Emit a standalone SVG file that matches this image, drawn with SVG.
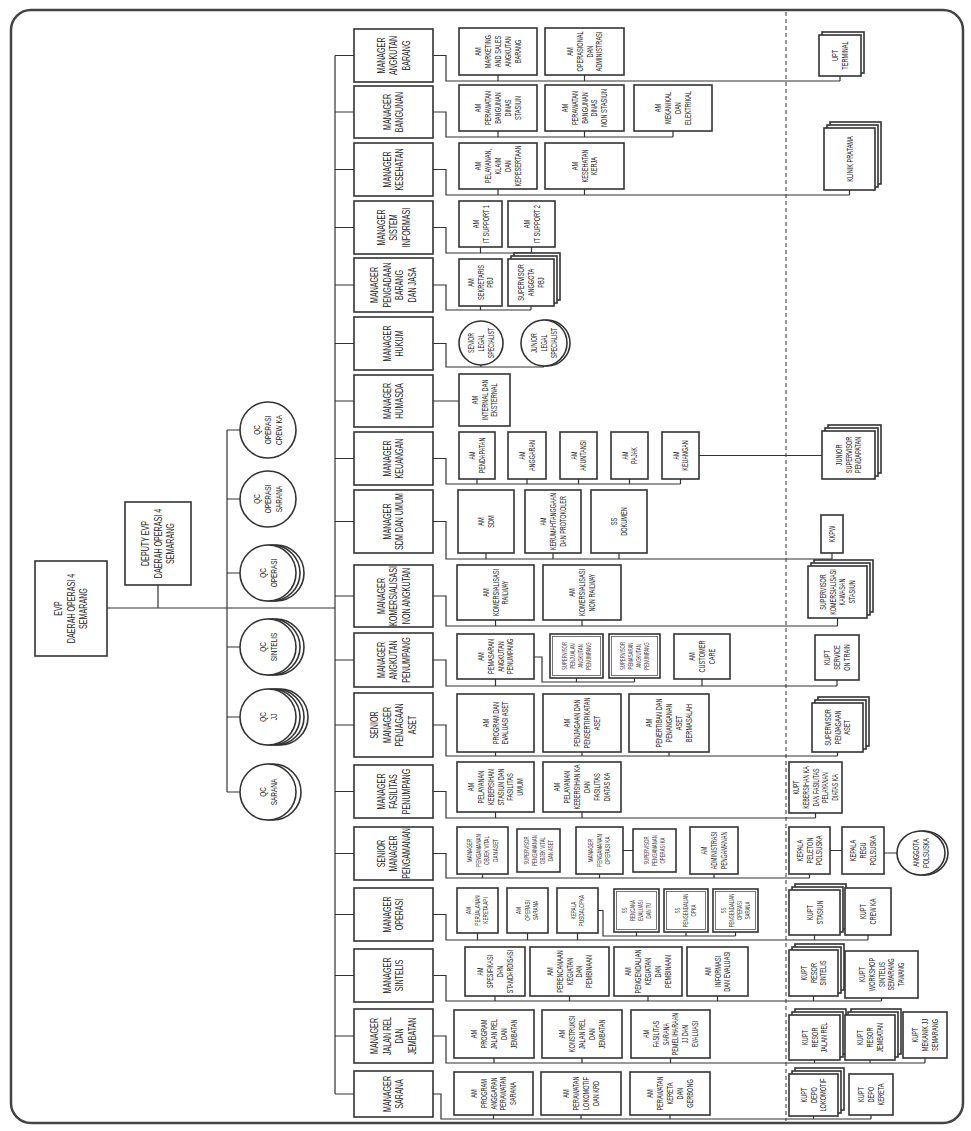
<svg xmlns="http://www.w3.org/2000/svg" width="971" height="1131" viewBox="0 0 971 1131">
<style>
text{font-family:"Liberation Sans",Arial,sans-serif;fill:#222;text-anchor:middle}
.m{font-size:10.5px}
.s{font-size:8.5px}
.ms{font-size:7px}
.x{font-size:6.5px;fill:#444}
.q{font-size:9.5px}
.b{fill:#fff;stroke:#333;stroke-width:1.6}
.bi{fill:none;stroke:#555;stroke-width:0.8}
.c{fill:none;stroke:#333;stroke-width:1.2}
</style>
<rect width="971" height="1131" fill="#fff"/>
<rect x="11" y="10" width="952" height="1113" rx="20" fill="none" stroke="#444" stroke-width="2.5"/>
<line x1="786" y1="12" x2="786" y2="1121" stroke="#555" stroke-width="1.2" stroke-dasharray="4 3"/>

<g id="connectors" class="c">
<path d="M107 608H335M158 585V608M335 55.5V1094"/>
<path d="M227 430V792M227 430H240M227 499H240M227 573H240M227 647H240M227 717H240M227 792H240"/>
<path d="M335 55.5H354M433 55.5H446V81H840M498 75V81M584.5 75V81M840 76V81"/>
<path d="M335 112H354M433 112H446V137H673M498 131V137M584.5 131V137M673 131V137"/>
<path d="M335 169.5H354M433 169.5H446V195H849.5M498 189V195M584.5 189V195M849.5 190V195"/>
<path d="M335 227.5H354M433 227.5H446V253H531.5M480.5 247V253M531.5 247V253"/>
<path d="M335 285H354M433 285H446V310H531M480.5 306V310M531 306V310"/>
<path d="M335 343.5H354M433 343.5H446V367H544M481 365V367M544 366V367"/>
<path d="M335 401H354M433 401H459"/>
<path d="M335 458.5H354M433 458.5H446V484H680.5M477 479V484M527 479V484M578.5 479V484M629.5 479V484M680.5 479V484M699 455.5H822"/>
<path d="M335 521.5H354M433 521.5H446V559H832M486 553V559M553 553V559M619 553V559M832 553V559"/>
<path d="M335 596H354M433 596H446V626H837.5M495.5 620V626M582 620V626M837.5 618V626"/>
<path d="M335 660H354M433 660H446V686H837M495.5 679V686M702 679V686M837 680V686M534 657H542V682H634.5M576.5 678V682M634.5 678V682"/>
<path d="M335 725H354M433 725H446V756H837.5M495.5 752V756M582 752V756M669 752V756M837.5 752V756"/>
<path d="M335 791.5H354M433 791.5H446V818H815.5M495.5 812V818M582 812V818M815.5 813V818"/>
<path d="M335 853.5H354M433 853.5H446V878H809.5M482.5 874V878M599.5 874V878M714 874V878M809.5 874V878M623 850.5H633M830 850.5H842M884 853H897"/>
<path d="M335 914.5H354M433 914.5H446V940H868M477.5 933V940M527.5 933V940M577.5 933V940M814.5 935V940M868 935V940M598 910.5H603V936H735.5M636.5 932V936M686 932V936M735.5 932V936"/>
<path d="M335 975.5H354M433 975.5H446V1001H881.5M495 996V1001M569.5 996V1001M648 996V1001M717.5 996V1001M813.5 996V1001M881.5 998V1001"/>
<path d="M335 1036H354M433 1036H446V1063H925M494 1058V1063M582 1058V1063M670.5 1058V1063M814.5 1060V1063M870 1060V1063M925 1058V1063"/>
<path d="M335 1094H354M433 1094H441V1119H871M493.5 1115V1119M581 1115V1119M670 1115V1119M813.5 1116V1119M871 1115V1119"/>
</g>

<g id="evp"><rect class="b" x="35" y="561" width="72" height="95"/>
<text class="m" transform="translate(71 608.5) rotate(-90) scale(.68 1)"><tspan x="0" y="-8.8">EVP</tspan><tspan x="0" dy="12.5">DAERAH OPERASI 4</tspan><tspan x="0" dy="12.5">SEMARANG</tspan></text></g>
<g id="deputy"><rect class="b" x="125" y="502" width="66" height="83"/>
<text class="m" transform="translate(158 543.5) rotate(-90) scale(.68 1)"><tspan x="0" y="-8.8">DEPUTY EVP</tspan><tspan x="0" dy="12.5">DAERAH OPERASI 4</tspan><tspan x="0" dy="12.5">SEMARANG</tspan></text></g>

<g id="qc-crew"><circle class="b" cx="268" cy="430" r="28"/>
<text class="q" transform="translate(268 430) rotate(-90) scale(.68 1)"><tspan x="0" y="-7.7">QC</tspan><tspan x="0" dy="11">OPERASI</tspan><tspan x="0" dy="11">CREW KA</tspan></text></g>
<g id="qc-opsarana"><circle class="b" cx="268" cy="499" r="28"/>
<text class="q" transform="translate(268 499) rotate(-90) scale(.68 1)"><tspan x="0" y="-7.7">QC</tspan><tspan x="0" dy="11">OPERASI</tspan><tspan x="0" dy="11">SARANA</tspan></text></g>
<g id="qc-operasi"><circle class="b" cx="276" cy="573" r="28"/><circle class="b" cx="272" cy="573" r="28"/><circle class="b" cx="268" cy="573" r="28"/>
<text class="q" transform="translate(268 573) rotate(-90) scale(.68 1)"><tspan x="0" y="-2.2">QC</tspan><tspan x="0" dy="11">OPERASI</tspan></text></g>
<g id="qc-sintelis"><circle class="b" cx="276" cy="647" r="28"/><circle class="b" cx="272" cy="647" r="28"/><circle class="b" cx="268" cy="647" r="28"/>
<text class="q" transform="translate(268 647) rotate(-90) scale(.68 1)"><tspan x="0" y="-2.2">QC</tspan><tspan x="0" dy="11">SINTELIS</tspan></text></g>
<g id="qc-jj"><circle class="b" cx="280" cy="717" r="28"/><circle class="b" cx="276" cy="717" r="28"/><circle class="b" cx="272" cy="717" r="28"/><circle class="b" cx="268" cy="717" r="28"/>
<text class="q" transform="translate(268 717) rotate(-90) scale(.68 1)"><tspan x="0" y="-2.2">QC</tspan><tspan x="0" dy="11">JJ</tspan></text></g>
<g id="qc-sarana"><circle class="b" cx="273" cy="792" r="28"/><circle class="b" cx="268" cy="792" r="28"/>
<text class="q" transform="translate(268 792) rotate(-90) scale(.68 1)"><tspan x="0" y="-2.2">QC</tspan><tspan x="0" dy="11">SARANA</tspan></text></g>

<g id="mgr-angkutan-barang"><rect class="b" x="354" y="29" width="79" height="53"/>
<text class="m" transform="translate(393.5 55.5) rotate(-90) scale(.68 1)"><tspan x="0" y="-8.8">MANAGER</tspan><tspan x="0" dy="12.5">ANGKUTAN</tspan><tspan x="0" dy="12.5">BARANG</tspan></text></g>
<g id="am-marketing"><rect class="b" x="459" y="28" width="78" height="47"/>
<text class="s" transform="translate(498 51.5) rotate(-90) scale(.66 1)"><tspan x="0" y="-17">AM</tspan><tspan x="0" dy="10">MARKETING</tspan><tspan x="0" dy="10">AND SALES</tspan><tspan x="0" dy="10">ANGKUTAN</tspan><tspan x="0" dy="10">BARANG</tspan></text></g>
<g id="am-operasional"><rect class="b" x="545" y="28" width="79" height="47"/>
<text class="s" transform="translate(584.5 51.5) rotate(-90) scale(.66 1)"><tspan x="0" y="-12">AM</tspan><tspan x="0" dy="10">OPERASIONAL</tspan><tspan x="0" dy="10">DAN</tspan><tspan x="0" dy="10">ADMINISTRASI</tspan></text></g>
<g id="upt-terminal"><rect class="b" x="822" y="32" width="42" height="41"/><rect class="b" x="819" y="35" width="42" height="41"/>
<text class="s" transform="translate(840 55.5) rotate(-90) scale(.66 1)"><tspan x="0" y="-2">UPT</tspan><tspan x="0" dy="10">TERMINAL</tspan></text></g>

<g id="mgr-bangunan"><rect class="b" x="354" y="86" width="79" height="52"/>
<text class="m" transform="translate(393.5 112) rotate(-90) scale(.68 1)"><tspan x="0" y="-2.55">MANAGER</tspan><tspan x="0" dy="12.5">BANGUNAN</tspan></text></g>
<g id="am-bangunan-stasiun"><rect class="b" x="459" y="85" width="78" height="46"/>
<text class="s" transform="translate(498 108) rotate(-90) scale(.66 1)"><tspan x="0" y="-17">AM</tspan><tspan x="0" dy="10">PERAWATAN</tspan><tspan x="0" dy="10">BANGUNAN</tspan><tspan x="0" dy="10">DINAS</tspan><tspan x="0" dy="10">STASIUN</tspan></text></g>
<g id="am-bangunan-non"><rect class="b" x="545" y="85" width="79" height="46"/>
<text class="s" transform="translate(584.5 108) rotate(-90) scale(.66 1)"><tspan x="0" y="-17">AM</tspan><tspan x="0" dy="10">PERAWATAN</tspan><tspan x="0" dy="10">BANGUNAN</tspan><tspan x="0" dy="10">DINAS</tspan><tspan x="0" dy="10">NON STASIUN</tspan></text></g>
<g id="am-mekanikal"><rect class="b" x="634" y="85" width="78" height="46"/>
<text class="s" transform="translate(673 108) rotate(-90) scale(.66 1)"><tspan x="0" y="-12">AM</tspan><tspan x="0" dy="10">MEKANIKAL</tspan><tspan x="0" dy="10">DAN</tspan><tspan x="0" dy="10">ELEKTRIKAL</tspan></text></g>

<g id="mgr-kesehatan"><rect class="b" x="354" y="143" width="79" height="53"/>
<text class="m" transform="translate(393.5 169.5) rotate(-90) scale(.68 1)"><tspan x="0" y="-2.55">MANAGER</tspan><tspan x="0" dy="12.5">KESEHATAN</tspan></text></g>
<g id="am-pelayanan-klaim"><rect class="b" x="459" y="143" width="78" height="46"/>
<text class="s" transform="translate(498 166) rotate(-90) scale(.66 1)"><tspan x="0" y="-17">AM</tspan><tspan x="0" dy="10">PELAYANAN,</tspan><tspan x="0" dy="10">KLAIM</tspan><tspan x="0" dy="10">DAN</tspan><tspan x="0" dy="10">KEPESERTAAN</tspan></text></g>
<g id="am-kesehatan-kerja"><rect class="b" x="545" y="143" width="79" height="46"/>
<text class="s" transform="translate(584.5 166) rotate(-90) scale(.66 1)"><tspan x="0" y="-7">AM</tspan><tspan x="0" dy="10">KESEHATAN</tspan><tspan x="0" dy="10">KERJA</tspan></text></g>
<g id="klinik-pratama"><rect class="b" x="830" y="122" width="51" height="62"/><rect class="b" x="827" y="125" width="51" height="62"/><rect class="b" x="824" y="128" width="51" height="62"/>
<text class="s" transform="translate(849.5 159) rotate(-90) scale(.66 1)"><tspan x="0" y="3">KLINIK PRATAMA</tspan></text></g>

<g id="mgr-sistem-informasi"><rect class="b" x="354" y="201" width="79" height="53"/>
<text class="m" transform="translate(393.5 227.5) rotate(-90) scale(.68 1)"><tspan x="0" y="-8.8">MANAGER</tspan><tspan x="0" dy="12.5">SISTEM</tspan><tspan x="0" dy="12.5">INFORMASI</tspan></text></g>
<g id="am-it1"><rect class="b" x="459" y="201" width="43" height="46"/>
<text class="s" transform="translate(480.5 224) rotate(-90) scale(.66 1)"><tspan x="0" y="-2">AM</tspan><tspan x="0" dy="10">IT SUPPORT 1</tspan></text></g>
<g id="am-it2"><rect class="b" x="508" y="201" width="47" height="46"/>
<text class="s" transform="translate(531.5 224) rotate(-90) scale(.66 1)"><tspan x="0" y="-2">AM</tspan><tspan x="0" dy="10">IT SUPPORT 2</tspan></text></g>

<g id="mgr-pengadaan"><rect class="b" x="354" y="258" width="79" height="54"/>
<text class="m" transform="translate(393.5 285) rotate(-90) scale(.68 1)"><tspan x="0" y="-15.05">MANAGER</tspan><tspan x="0" dy="12.5">PENGADAAN</tspan><tspan x="0" dy="12.5">BARANG</tspan><tspan x="0" dy="12.5">DAN JASA</tspan></text></g>
<g id="am-sekretaris-pbj"><rect class="b" x="459" y="259" width="43" height="47"/>
<text class="s" transform="translate(480.5 282.5) rotate(-90) scale(.66 1)"><tspan x="0" y="-7">AM</tspan><tspan x="0" dy="10">SEKRETARIS</tspan><tspan x="0" dy="10">PBJ</tspan></text></g>
<g id="supervisor-anggota-pbj"><rect class="b" x="514" y="253" width="46" height="47"/><rect class="b" x="511" y="256" width="46" height="47"/><rect class="b" x="508" y="259" width="46" height="47"/>
<text class="s" transform="translate(531 282.5) rotate(-90) scale(.66 1)"><tspan x="0" y="-7">SUPERVISOR</tspan><tspan x="0" dy="10">ANGGOTA</tspan><tspan x="0" dy="10">PBJ</tspan></text></g>

<g id="mgr-hukum"><rect class="b" x="354" y="317" width="79" height="53"/>
<text class="m" transform="translate(393.5 343.5) rotate(-90) scale(.68 1)"><tspan x="0" y="-2.55">MANAGER</tspan><tspan x="0" dy="12.5">HUKUM</tspan></text></g>
<g id="senior-legal"><circle class="b" cx="481" cy="343" r="22"/>
<text class="s" transform="translate(481 343) rotate(-90) scale(.62 1)"><tspan x="0" y="-7">SENIOR</tspan><tspan x="0" dy="10">LEGAL</tspan><tspan x="0" dy="10">SPECIALIST</tspan></text></g>
<g id="junior-legal"><circle class="b" cx="547" cy="343" r="23"/><circle class="b" cx="544" cy="343" r="23"/>
<text class="s" transform="translate(544 343) rotate(-90) scale(.62 1)"><tspan x="0" y="-7">JUNIOR</tspan><tspan x="0" dy="10">LEGAL</tspan><tspan x="0" dy="10">SPECIALIST</tspan></text></g>

<g id="mgr-humasda"><rect class="b" x="354" y="375" width="79" height="52"/>
<text class="m" transform="translate(393.5 401) rotate(-90) scale(.68 1)"><tspan x="0" y="-2.55">MANAGER</tspan><tspan x="0" dy="12.5">HUMASDA</tspan></text></g>
<g id="am-internal"><rect class="b" x="459" y="374" width="51" height="52"/>
<text class="s" transform="translate(484.5 400) rotate(-90) scale(.66 1)"><tspan x="0" y="-7">AM</tspan><tspan x="0" dy="10">INTERNAL DAN</tspan><tspan x="0" dy="10">EKSTERNAL</tspan></text></g>

<g id="mgr-keuangan"><rect class="b" x="354" y="432" width="79" height="53"/>
<text class="m" transform="translate(393.5 458.5) rotate(-90) scale(.68 1)"><tspan x="0" y="-2.55">MANAGER</tspan><tspan x="0" dy="12.5">KEUANGAN</tspan></text></g>
<g id="am-pendapatan"><rect class="b" x="459" y="432" width="36" height="47"/>
<text class="s" transform="translate(477 455.5) rotate(-90) scale(.64 1)"><tspan x="0" y="-2">AM</tspan><tspan x="0" dy="10">PENDAPATAN</tspan></text></g>
<g id="am-anggaran"><rect class="b" x="508" y="432" width="38" height="47"/>
<text class="s" transform="translate(527 455.5) rotate(-90) scale(.64 1)"><tspan x="0" y="-2">AM</tspan><tspan x="0" dy="10">ANGGARAN</tspan></text></g>
<g id="am-akuntansi"><rect class="b" x="560" y="432" width="37" height="47"/>
<text class="s" transform="translate(578.5 455.5) rotate(-90) scale(.64 1)"><tspan x="0" y="-2">AM</tspan><tspan x="0" dy="10">AKUNTANSI</tspan></text></g>
<g id="am-pajak"><rect class="b" x="611" y="432" width="37" height="47"/>
<text class="s" transform="translate(629.5 455.5) rotate(-90) scale(.64 1)"><tspan x="0" y="-2">AM</tspan><tspan x="0" dy="10">PAJAK</tspan></text></g>
<g id="am-keuangan"><rect class="b" x="662" y="432" width="37" height="47"/>
<text class="s" transform="translate(680.5 455.5) rotate(-90) scale(.64 1)"><tspan x="0" y="-2">AM</tspan><tspan x="0" dy="10">KEUANGAN</tspan></text></g>
<g id="junior-supervisor-pendapatan"><rect class="b" x="828" y="425" width="53" height="48"/><rect class="b" x="825" y="428" width="53" height="48"/><rect class="b" x="822" y="431" width="53" height="48"/>
<text class="s" transform="translate(848.5 455) rotate(-90) scale(.66 1)"><tspan x="0" y="-7">JUNIOR</tspan><tspan x="0" dy="10">SUPERVISOR</tspan><tspan x="0" dy="10">PENDAPATAN</tspan></text></g>

<g id="mgr-sdm"><rect class="b" x="354" y="490" width="79" height="63"/>
<text class="m" transform="translate(393.5 521.5) rotate(-90) scale(.68 1)"><tspan x="0" y="-2.55">MANAGER</tspan><tspan x="0" dy="12.5">SDM DAN UMUM</tspan></text></g>
<g id="am-sdm"><rect class="b" x="458" y="490" width="56" height="63"/>
<text class="s" transform="translate(486 521.5) rotate(-90) scale(.66 1)"><tspan x="0" y="-2">AM</tspan><tspan x="0" dy="10">SDM</tspan></text></g>
<g id="am-kerumahtanggaan"><rect class="b" x="525" y="490" width="56" height="63"/>
<text class="s" transform="translate(553 521.5) rotate(-90) scale(.64 1)"><tspan x="0" y="-7">AM</tspan><tspan x="0" dy="10">KERUMAHTANGGAAN</tspan><tspan x="0" dy="10">DAN PROTOKOLER</tspan></text></g>
<g id="ss-dokumen"><rect class="b" x="591" y="490" width="56" height="63"/>
<text class="s" transform="translate(619 521.5) rotate(-90) scale(.66 1)"><tspan x="0" y="-2">SS</tspan><tspan x="0" dy="10">DOKUMEN</tspan></text></g>
<g id="kkpw"><rect class="b" x="821" y="515" width="22" height="38"/>
<text class="s" transform="translate(832 534) rotate(-90) scale(.66 1)"><tspan x="0" y="3">KKPW</tspan></text></g>

<g id="mgr-komersialisasi"><rect class="b" x="354" y="565" width="79" height="62"/>
<text class="m" transform="translate(393.5 596) rotate(-90) scale(.68 1)"><tspan x="0" y="-8.8">MANAGER</tspan><tspan x="0" dy="12.5">KOMERSIALISASI</tspan><tspan x="0" dy="12.5">NON ANGKUTAN</tspan></text></g>
<g id="am-kom-railway"><rect class="b" x="457" y="565" width="77" height="55"/>
<text class="s" transform="translate(495.5 592.5) rotate(-90) scale(.66 1)"><tspan x="0" y="-7">AM</tspan><tspan x="0" dy="10">KOMERSIALISASI</tspan><tspan x="0" dy="10">RAILWAY</tspan></text></g>
<g id="am-kom-nonrailway"><rect class="b" x="543" y="565" width="78" height="55"/>
<text class="s" transform="translate(582 592.5) rotate(-90) scale(.66 1)"><tspan x="0" y="-7">AM</tspan><tspan x="0" dy="10">KOMERSIALISASI</tspan><tspan x="0" dy="10">NON RAILWAY</tspan></text></g>
<g id="supervisor-kawasan"><rect class="b" x="814" y="560" width="59" height="52"/><rect class="b" x="811" y="563" width="59" height="52"/><rect class="b" x="808" y="566" width="59" height="52"/>
<text class="s" transform="translate(837.5 592) rotate(-90) scale(.64 1)"><tspan x="0" y="-12">SUPERVISOR</tspan><tspan x="0" dy="10">KOMERSIALISASI</tspan><tspan x="0" dy="10">KAWASAN</tspan><tspan x="0" dy="10">STASIUN</tspan></text></g>

<g id="mgr-angkutan-penumpang"><rect class="b" x="354" y="633" width="79" height="54"/>
<text class="m" transform="translate(393.5 660) rotate(-90) scale(.68 1)"><tspan x="0" y="-8.8">MANAGER</tspan><tspan x="0" dy="12.5">ANGKUTAN</tspan><tspan x="0" dy="12.5">PENUMPANG</tspan></text></g>
<g id="am-pemasaran"><rect class="b" x="457" y="634" width="77" height="45"/>
<text class="s" transform="translate(495.5 656.5) rotate(-90) scale(.66 1)"><tspan x="0" y="-12">AM</tspan><tspan x="0" dy="10">PEMASARAN</tspan><tspan x="0" dy="10">ANGKUTAN</tspan><tspan x="0" dy="10">PENUMPANG</tspan></text></g>
<g id="sup-penjualan"><rect class="b" x="550" y="634" width="53" height="44"/><rect class="bi" x="552.5" y="636.5" width="48" height="39"/>
<text class="x" transform="translate(576.5 656) rotate(-90) scale(.66 1)"><tspan x="0" y="-9.7">SUPERVISOR</tspan><tspan x="0" dy="8">PENJUALAN</tspan><tspan x="0" dy="8">ANGKUTAN</tspan><tspan x="0" dy="8">PENUMPANG</tspan></text></g>
<g id="sup-pemasaran"><rect class="b" x="609" y="634" width="51" height="44"/><rect class="bi" x="611.5" y="636.5" width="46" height="39"/>
<text class="x" transform="translate(634.5 656) rotate(-90) scale(.66 1)"><tspan x="0" y="-9.7">SUPERVISOR</tspan><tspan x="0" dy="8">PEMASARAN</tspan><tspan x="0" dy="8">ANGKUTAN</tspan><tspan x="0" dy="8">PENUMPANG</tspan></text></g>
<g id="am-customer-care"><rect class="b" x="674" y="634" width="56" height="45"/>
<text class="s" transform="translate(702 656.5) rotate(-90) scale(.66 1)"><tspan x="0" y="-7">AM</tspan><tspan x="0" dy="10">CUSTOMER</tspan><tspan x="0" dy="10">CARE</tspan></text></g>
<g id="kupt-service"><rect class="b" x="815" y="635" width="44" height="45"/>
<text class="s" transform="translate(837 657.5) rotate(-90) scale(.66 1)"><tspan x="0" y="-7">KUPT</tspan><tspan x="0" dy="10">SERVICE</tspan><tspan x="0" dy="10">ON TRAIN</tspan></text></g>

<g id="sm-penjagaan-aset"><rect class="b" x="354" y="693" width="79" height="64"/>
<text class="m" transform="translate(393.5 725) rotate(-90) scale(.68 1)"><tspan x="0" y="-15.05">SENIOR</tspan><tspan x="0" dy="12.5">MANAGER</tspan><tspan x="0" dy="12.5">PENJAGAAN</tspan><tspan x="0" dy="12.5">ASET</tspan></text></g>
<g id="am-program-aset"><rect class="b" x="457" y="694" width="77" height="58"/>
<text class="s" transform="translate(495.5 723) rotate(-90) scale(.66 1)"><tspan x="0" y="-7">AM</tspan><tspan x="0" dy="10">PROGRAM DAN</tspan><tspan x="0" dy="10">EVALUASI ASET</tspan></text></g>
<g id="am-penjagaan"><rect class="b" x="543" y="694" width="78" height="58"/>
<text class="s" transform="translate(582 723) rotate(-90) scale(.66 1)"><tspan x="0" y="-12">AM</tspan><tspan x="0" dy="10">PENJAGAAN DAN</tspan><tspan x="0" dy="10">PENSERTIPIKATAN</tspan><tspan x="0" dy="10">ASET</tspan></text></g>
<g id="am-penertiban"><rect class="b" x="629" y="694" width="80" height="58"/>
<text class="s" transform="translate(669 723) rotate(-90) scale(.66 1)"><tspan x="0" y="-17">AM</tspan><tspan x="0" dy="10">PENERTIBAN DAN</tspan><tspan x="0" dy="10">PENANGANAN</tspan><tspan x="0" dy="10">ASET</tspan><tspan x="0" dy="10">BERMASALAH</tspan></text></g>
<g id="supervisor-penjagaan"><rect class="b" x="818" y="697" width="51" height="49"/><rect class="b" x="815" y="700" width="51" height="49"/><rect class="b" x="812" y="703" width="51" height="49"/>
<text class="s" transform="translate(837.5 727.5) rotate(-90) scale(.66 1)"><tspan x="0" y="-7">SUPERVISOR</tspan><tspan x="0" dy="10">PENJAGAAN</tspan><tspan x="0" dy="10">ASET</tspan></text></g>

<g id="mgr-fasilitas"><rect class="b" x="354" y="765" width="79" height="53"/>
<text class="m" transform="translate(393.5 791.5) rotate(-90) scale(.68 1)"><tspan x="0" y="-8.8">MANAGER</tspan><tspan x="0" dy="12.5">FASILITAS</tspan><tspan x="0" dy="12.5">PENUMPANG</tspan></text></g>
<g id="am-kebersihan-stasiun"><rect class="b" x="457" y="762" width="77" height="50"/>
<text class="s" transform="translate(495.5 787) rotate(-90) scale(.66 1)"><tspan x="0" y="-22">AM</tspan><tspan x="0" dy="10">PELAYANAN</tspan><tspan x="0" dy="10">KEBERSIHAN</tspan><tspan x="0" dy="10">STASIUN DAN</tspan><tspan x="0" dy="10">FASILITAS</tspan><tspan x="0" dy="10">UMUM</tspan></text></g>
<g id="am-kebersihan-ka"><rect class="b" x="543" y="762" width="78" height="50"/>
<text class="s" transform="translate(582 787) rotate(-90) scale(.66 1)"><tspan x="0" y="-22">AM</tspan><tspan x="0" dy="10">PELAYANAN</tspan><tspan x="0" dy="10">KEBERSIHAN KA</tspan><tspan x="0" dy="10">DAN</tspan><tspan x="0" dy="10">FASILITAS</tspan><tspan x="0" dy="10">DIATAS KA</tspan></text></g>
<g id="kupt-kebersihan"><rect class="b" x="789" y="762" width="53" height="51"/>
<text class="s" transform="translate(815.5 787.5) rotate(-90) scale(.62 1)"><tspan x="0" y="-17">KUPT</tspan><tspan x="0" dy="10">KEBERSIHAN KA</tspan><tspan x="0" dy="10">DAN FASILITAS</tspan><tspan x="0" dy="10">PELAYANAN</tspan><tspan x="0" dy="10">DIATAS KA</tspan></text></g>

<g id="sm-pengamanan"><rect class="b" x="354" y="827" width="79" height="53"/>
<text class="m" transform="translate(393.5 853.5) rotate(-90) scale(.68 1)"><tspan x="0" y="-8.8">SENIOR</tspan><tspan x="0" dy="12.5">MANAGER</tspan><tspan x="0" dy="12.5">PENGAMANAN</tspan></text></g>
<g id="mgr-objek-vital"><rect class="b" x="457" y="827" width="51" height="47"/>
<text class="ms" transform="translate(482.5 850.5) rotate(-90) scale(.66 1)"><tspan x="0" y="-10.3">MANAGER</tspan><tspan x="0" dy="8.5">PENGAMANAN</tspan><tspan x="0" dy="8.5">OBJEK VITAL</tspan><tspan x="0" dy="8.5">DAN ASET</tspan></text></g>
<g id="sup-objek-vital"><rect class="b" x="517" y="829" width="43" height="43"/>
<text class="x" transform="translate(538.5 850.5) rotate(-90) scale(.66 1)"><tspan x="0" y="-9.7">SUPERVISOR</tspan><tspan x="0" dy="8">PENGAMANAN</tspan><tspan x="0" dy="8">OBJEK VITAL</tspan><tspan x="0" dy="8">DAN ASET</tspan></text></g>
<g id="mgr-operasi-ka"><rect class="b" x="576" y="827" width="47" height="47"/>
<text class="ms" transform="translate(599.5 850.5) rotate(-90) scale(.66 1)"><tspan x="0" y="-6.05">MANAGER</tspan><tspan x="0" dy="8.5">PENGAMANAN</tspan><tspan x="0" dy="8.5">OPERASI KA</tspan></text></g>
<g id="sup-operasi-ka"><rect class="b" x="633" y="829" width="43" height="43"/>
<text class="x" transform="translate(654.5 850.5) rotate(-90) scale(.66 1)"><tspan x="0" y="-5.7">SUPERVISOR</tspan><tspan x="0" dy="8">PENGAMANAN</tspan><tspan x="0" dy="8">OPERASI KA</tspan></text></g>
<g id="am-administrasi-pengamanan"><rect class="b" x="690" y="827" width="48" height="47"/>
<text class="s" transform="translate(714 850.5) rotate(-90) scale(.62 1)"><tspan x="0" y="-7">AM</tspan><tspan x="0" dy="10">ADMINISTRASI</tspan><tspan x="0" dy="10">PENGAMANAN</tspan></text></g>
<g id="kepala-peleton"><rect class="b" x="789" y="827" width="41" height="47"/>
<text class="s" transform="translate(809.5 850.5) rotate(-90) scale(.66 1)"><tspan x="0" y="-7">KEPALA</tspan><tspan x="0" dy="10">PELETON</tspan><tspan x="0" dy="10">POLSUSKA</tspan></text></g>
<g id="kepala-regu"><rect class="b" x="842" y="827" width="42" height="47"/>
<text class="s" transform="translate(863 850.5) rotate(-90) scale(.66 1)"><tspan x="0" y="-7">KEPALA</tspan><tspan x="0" dy="10">REGU</tspan><tspan x="0" dy="10">POLSUSKA</tspan></text></g>
<g id="anggota-polsuska"><ellipse class="b" cx="924" cy="853" rx="24" ry="22"/><ellipse class="b" cx="921" cy="853" rx="24" ry="22"/>
<text class="s" transform="translate(921 853) rotate(-90) scale(.66 1)"><tspan x="0" y="-2">ANGGOTA</tspan><tspan x="0" dy="10">POLSUSKA</tspan></text></g>

<g id="mgr-operasi"><rect class="b" x="354" y="888" width="79" height="53"/>
<text class="m" transform="translate(393.5 914.5) rotate(-90) scale(.68 1)"><tspan x="0" y="-2.55">MANAGER</tspan><tspan x="0" dy="12.5">OPERASI</tspan></text></g>
<g id="am-perjalanan"><rect class="b" x="457" y="888" width="41" height="45"/>
<text class="ms" transform="translate(477.5 910.5) rotate(-90) scale(.66 1)"><tspan x="0" y="-6.05">AM</tspan><tspan x="0" dy="8.5">PERJALANAN</tspan><tspan x="0" dy="8.5">KERETA API</tspan></text></g>
<g id="am-operasi-sarana"><rect class="b" x="507" y="888" width="41" height="45"/>
<text class="ms" transform="translate(527.5 910.5) rotate(-90) scale(.66 1)"><tspan x="0" y="-6.05">AM</tspan><tspan x="0" dy="8.5">OPERASI</tspan><tspan x="0" dy="8.5">SARANA</tspan></text></g>
<g id="kepala-pusdalopka"><rect class="b" x="557" y="888" width="41" height="45"/>
<text class="ms" transform="translate(577.5 910.5) rotate(-90) scale(.66 1)"><tspan x="0" y="-1.8">KEPALA</tspan><tspan x="0" dy="8.5">PUSDALOPKA</tspan></text></g>
<g id="ss-rencana"><rect class="b" x="614" y="889" width="45" height="43"/><rect class="bi" x="616.5" y="891.5" width="40" height="38"/>
<text class="x" transform="translate(636.5 910.5) rotate(-90) scale(.66 1)"><tspan x="0" y="-9.7">SS</tspan><tspan x="0" dy="8">RENCANA</tspan><tspan x="0" dy="8">EVALUASI</tspan><tspan x="0" dy="8">DAN TU</tspan></text></g>
<g id="ss-opka"><rect class="b" x="664" y="889" width="44" height="43"/><rect class="bi" x="666.5" y="891.5" width="39" height="38"/>
<text class="x" transform="translate(686 910.5) rotate(-90) scale(.66 1)"><tspan x="0" y="-5.7">SS</tspan><tspan x="0" dy="8">PENGENDALIAN</tspan><tspan x="0" dy="8">OPKA</tspan></text></g>
<g id="ss-operasi-sarana"><rect class="b" x="713" y="889" width="45" height="43"/><rect class="bi" x="715.5" y="891.5" width="40" height="38"/>
<text class="x" transform="translate(735.5 910.5) rotate(-90) scale(.66 1)"><tspan x="0" y="-9.7">SS</tspan><tspan x="0" dy="8">PENGENDALIAN</tspan><tspan x="0" dy="8">OPERASI</tspan><tspan x="0" dy="8">SARANA</tspan></text></g>
<g id="kupt-stasiun"><rect class="b" x="795" y="884" width="51" height="45"/><rect class="b" x="792" y="887" width="51" height="45"/><rect class="b" x="789" y="890" width="51" height="45"/>
<text class="s" transform="translate(814.5 912.5) rotate(-90) scale(.66 1)"><tspan x="0" y="-2">KUPT</tspan><tspan x="0" dy="10">STASIUN</tspan></text></g>
<g id="kupt-crew-ka"><rect class="b" x="845" y="888" width="46" height="47"/>
<text class="s" transform="translate(868 911.5) rotate(-90) scale(.66 1)"><tspan x="0" y="-2">KUPT</tspan><tspan x="0" dy="10">CREW KA</tspan></text></g>

<g id="mgr-sintelis"><rect class="b" x="354" y="949" width="79" height="53"/>
<text class="m" transform="translate(393.5 975.5) rotate(-90) scale(.68 1)"><tspan x="0" y="-2.55">MANAGER</tspan><tspan x="0" dy="12.5">SINTELIS</tspan></text></g>
<g id="am-spesifikasi"><rect class="b" x="465" y="947" width="60" height="49"/>
<text class="s" transform="translate(495 971.5) rotate(-90) scale(.64 1)"><tspan x="0" y="-12">AM</tspan><tspan x="0" dy="10">SPESIFIKASI</tspan><tspan x="0" dy="10">DAN</tspan><tspan x="0" dy="10">STANDARDISASI</tspan></text></g>
<g id="am-perencanaan"><rect class="b" x="530" y="947" width="79" height="49"/>
<text class="s" transform="translate(569.5 971.5) rotate(-90) scale(.66 1)"><tspan x="0" y="-17">AM</tspan><tspan x="0" dy="10">PERENCANAAN</tspan><tspan x="0" dy="10">KEGIATAN</tspan><tspan x="0" dy="10">DAN</tspan><tspan x="0" dy="10">PEMBINAAN</tspan></text></g>
<g id="am-pengendalian"><rect class="b" x="614" y="947" width="68" height="49"/>
<text class="s" transform="translate(648 971.5) rotate(-90) scale(.66 1)"><tspan x="0" y="-17">AM</tspan><tspan x="0" dy="10">PENGENDALIAN</tspan><tspan x="0" dy="10">KEGIATAN</tspan><tspan x="0" dy="10">DAN</tspan><tspan x="0" dy="10">PEMBINAAN</tspan></text></g>
<g id="am-informasi"><rect class="b" x="687" y="947" width="61" height="49"/>
<text class="s" transform="translate(717.5 971.5) rotate(-90) scale(.66 1)"><tspan x="0" y="-7">AM</tspan><tspan x="0" dy="10">INFORMASI</tspan><tspan x="0" dy="10">DAN EVALUASI</tspan></text></g>
<g id="kupt-resor-sintelis"><rect class="b" x="795" y="944" width="49" height="46"/><rect class="b" x="792" y="947" width="49" height="46"/><rect class="b" x="789" y="950" width="49" height="46"/>
<text class="s" transform="translate(813.5 973) rotate(-90) scale(.66 1)"><tspan x="0" y="-7">KUPT</tspan><tspan x="0" dy="10">RESOR</tspan><tspan x="0" dy="10">SINTELIS</tspan></text></g>
<g id="kupt-workshop"><rect class="b" x="845" y="951" width="73" height="47"/>
<text class="s" transform="translate(881.5 974.5) rotate(-90) scale(.66 1)"><tspan x="0" y="-17">KUPT</tspan><tspan x="0" dy="10">WORKSHOP</tspan><tspan x="0" dy="10">SINTELIS</tspan><tspan x="0" dy="10">SEMARANG</tspan><tspan x="0" dy="10">TAWANG</tspan></text></g>

<g id="mgr-jalan-rel"><rect class="b" x="354" y="1009" width="79" height="54"/>
<text class="m" transform="translate(393.5 1036) rotate(-90) scale(.68 1)"><tspan x="0" y="-15.05">MANAGER</tspan><tspan x="0" dy="12.5">JALAN REL</tspan><tspan x="0" dy="12.5">DAN</tspan><tspan x="0" dy="12.5">JEMBATAN</tspan></text></g>
<g id="am-program-jj"><rect class="b" x="454" y="1010" width="80" height="48"/>
<text class="s" transform="translate(494 1034) rotate(-90) scale(.66 1)"><tspan x="0" y="-17">AM</tspan><tspan x="0" dy="10">PROGRAM</tspan><tspan x="0" dy="10">JALAN REL</tspan><tspan x="0" dy="10">DAN</tspan><tspan x="0" dy="10">JEMBATAN</tspan></text></g>
<g id="am-konstruksi"><rect class="b" x="542" y="1010" width="80" height="48"/>
<text class="s" transform="translate(582 1034) rotate(-90) scale(.66 1)"><tspan x="0" y="-17">AM</tspan><tspan x="0" dy="10">KONSTRUKSI</tspan><tspan x="0" dy="10">JALAN REL</tspan><tspan x="0" dy="10">DAN</tspan><tspan x="0" dy="10">JEMBATAN</tspan></text></g>
<g id="am-fasilitas-sarana"><rect class="b" x="631" y="1010" width="79" height="48"/>
<text class="s" transform="translate(670.5 1034) rotate(-90) scale(.64 1)"><tspan x="0" y="-22">AM</tspan><tspan x="0" dy="10">FASILITAS</tspan><tspan x="0" dy="10">SARANA</tspan><tspan x="0" dy="10">PEMELIHARAAN</tspan><tspan x="0" dy="10">JJ DAN</tspan><tspan x="0" dy="10">EVALUASI</tspan></text></g>
<g id="kupt-resor-jalan-rel"><rect class="b" x="795" y="1009" width="51" height="45"/><rect class="b" x="792" y="1012" width="51" height="45"/><rect class="b" x="789" y="1015" width="51" height="45"/>
<text class="s" transform="translate(814.5 1037.5) rotate(-90) scale(.66 1)"><tspan x="0" y="-7">KUPT</tspan><tspan x="0" dy="10">RESOR</tspan><tspan x="0" dy="10">JALAN REL</tspan></text></g>
<g id="kupt-resor-jembatan"><rect class="b" x="851" y="1009" width="50" height="45"/><rect class="b" x="848" y="1012" width="50" height="45"/><rect class="b" x="845" y="1015" width="50" height="45"/>
<text class="s" transform="translate(870 1037.5) rotate(-90) scale(.66 1)"><tspan x="0" y="-7">KUPT</tspan><tspan x="0" dy="10">RESOR</tspan><tspan x="0" dy="10">JEMBATAN</tspan></text></g>
<g id="kupt-mekanik-jj"><rect class="b" x="903" y="1012" width="44" height="46"/>
<text class="s" transform="translate(925 1035) rotate(-90) scale(.66 1)"><tspan x="0" y="-7">KUPT</tspan><tspan x="0" dy="10">MEKANIK JJ</tspan><tspan x="0" dy="10">SEMARANG</tspan></text></g>

<g id="mgr-sarana"><rect class="b" x="354" y="1071" width="79" height="46"/>
<text class="m" transform="translate(393.5 1094) rotate(-90) scale(.68 1)"><tspan x="0" y="-2.55">MANAGER</tspan><tspan x="0" dy="12.5">SARANA</tspan></text></g>
<g id="am-program-sarana"><rect class="b" x="454" y="1072" width="79" height="43"/>
<text class="s" transform="translate(493.5 1093.5) rotate(-90) scale(.66 1)"><tspan x="0" y="-17">AM</tspan><tspan x="0" dy="10">PROGRAM</tspan><tspan x="0" dy="10">ANGGARAN</tspan><tspan x="0" dy="10">PERAWATAN</tspan><tspan x="0" dy="10">SARANA</tspan></text></g>
<g id="am-perawatan-lokomotif"><rect class="b" x="541" y="1072" width="80" height="43"/>
<text class="s" transform="translate(581 1093.5) rotate(-90) scale(.66 1)"><tspan x="0" y="-12">AM</tspan><tspan x="0" dy="10">PERAWATAN</tspan><tspan x="0" dy="10">LOKOMOTIF</tspan><tspan x="0" dy="10">DAN KRD</tspan></text></g>
<g id="am-perawatan-kereta"><rect class="b" x="630" y="1072" width="80" height="43"/>
<text class="s" transform="translate(670 1093.5) rotate(-90) scale(.66 1)"><tspan x="0" y="-17">AM</tspan><tspan x="0" dy="10">PERAWATAN</tspan><tspan x="0" dy="10">KERETA</tspan><tspan x="0" dy="10">DAN</tspan><tspan x="0" dy="10">GERBONG</tspan></text></g>
<g id="kupt-depo-lokomotif"><rect class="b" x="795" y="1068" width="49" height="42"/><rect class="b" x="792" y="1071" width="49" height="42"/><rect class="b" x="789" y="1074" width="49" height="42"/>
<text class="s" transform="translate(813.5 1095) rotate(-90) scale(.66 1)"><tspan x="0" y="-7">KUPT</tspan><tspan x="0" dy="10">DEPO</tspan><tspan x="0" dy="10">LOKOMOTIF</tspan></text></g>
<g id="kupt-depo-kereta"><rect class="b" x="849" y="1074" width="44" height="41"/>
<text class="s" transform="translate(871 1094.5) rotate(-90) scale(.66 1)"><tspan x="0" y="-7">KUPT</tspan><tspan x="0" dy="10">DEPO</tspan><tspan x="0" dy="10">KERETA</tspan></text></g>
</svg>
